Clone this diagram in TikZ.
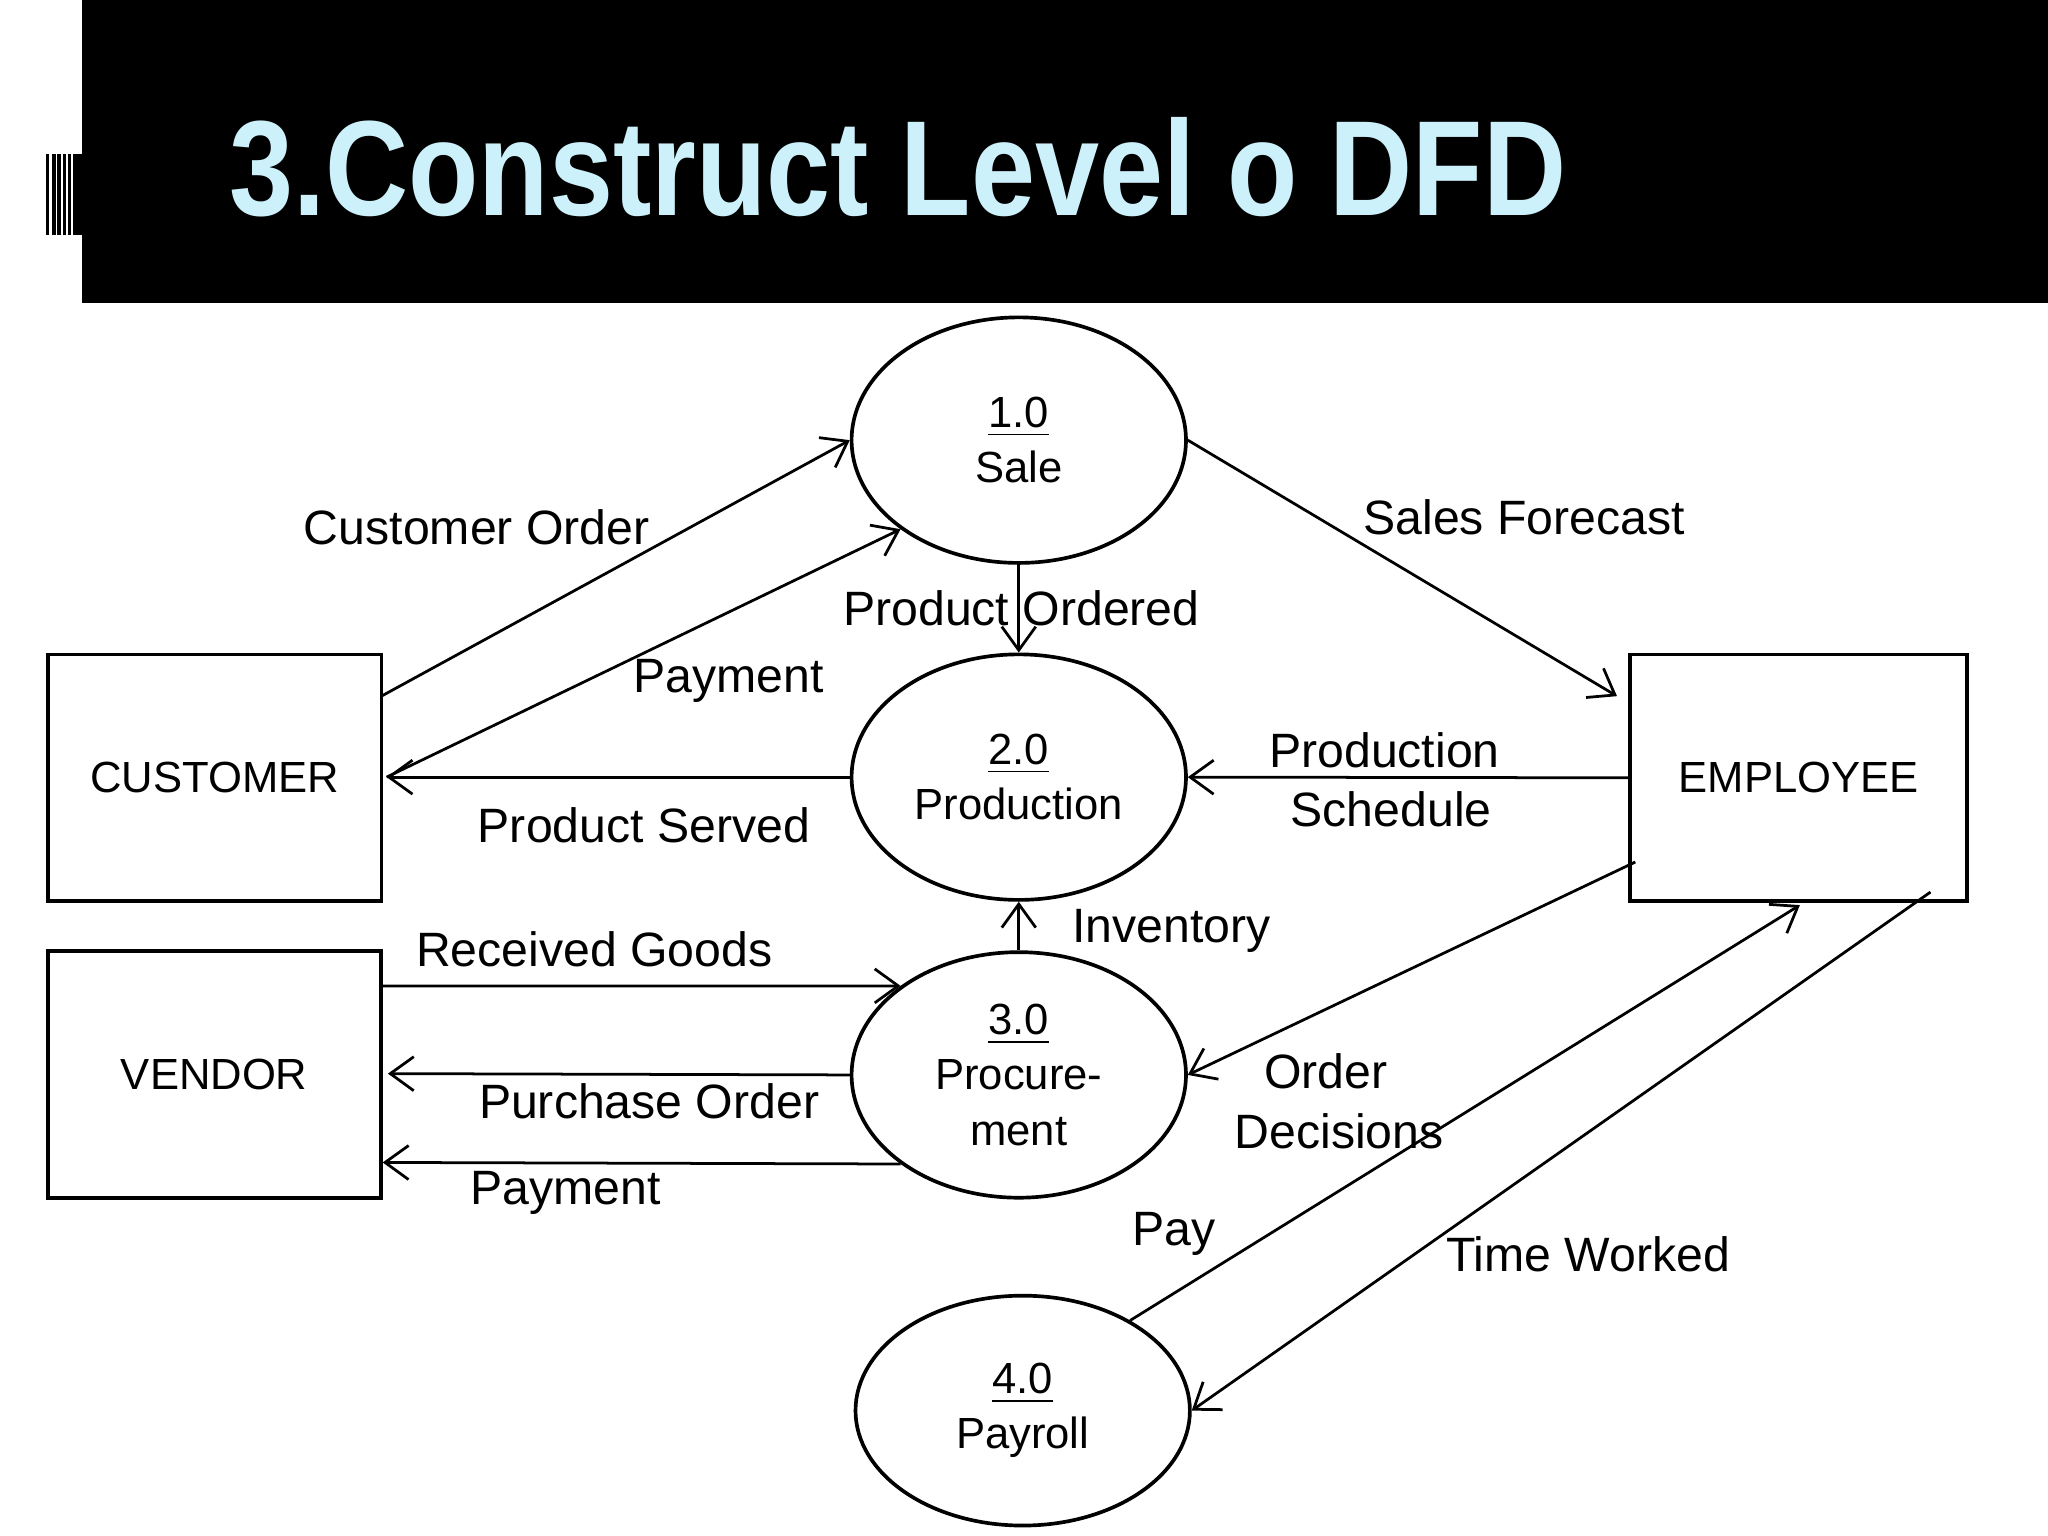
\documentclass[tikz,border=0pt]{standalone}
\usepackage{fontspec}
\setmainfont{Liberation Sans}
\usetikzlibrary{arrows.meta}
\usetikzlibrary{shapes.geometric}
\usetikzlibrary{calc}
\definecolor{titlecyan}{HTML}{CDF1FB}
\tikzset{
    proc/.style={draw, ellipse, thick, inner sep=0pt, align=center,
        minimum width=2.56cm, minimum height=1.88cm, font=\fontsize{9.5}{12}\selectfont},
    entity/.style={draw, thick, minimum width=2.55cm, minimum height=1.89cm,
        font=\fontsize{9.5}{12}\selectfont},
    flow/.style={->, semithick, >={Straight Barb[length=1.8mm,width=2.6mm]}},
    lbl/.style={font=\fontsize{10.5}{13}\selectfont, align=center}
}
\begin{document}
\begin{tikzpicture}
    \useasboundingbox (0,0) rectangle (15.68,-11.76);
    \fill[white] (0,0) rectangle (15.68,-11.76);
    % title banner
    \fill[black] (0.63,0) rectangle (15.68,-2.32);
    \foreach \x in {0.35,0.40,0.44,0.48,0.52,0.56}
        \fill[black] (\x,-1.18) rectangle (\x+0.025,-1.80);
    \fill[black] (0.58,-1.18) rectangle (0.63,-1.80);
    \node[anchor=base west, inner sep=0pt, text=titlecyan] (title) at (1.75,-1.65)
        {\scalebox{0.85}[1]{\fontsize{29.5}{32}\selectfont\bfseries 3.Construct Level o DFD}};
    % processes
    \node[proc] (sale) at (7.80,-3.37) {\underline{1.0}\\Sale};
    \node[proc] (prod) at (7.80,-5.95) {\underline{2.0}\\Production};
    \node[proc] (procu) at (7.80,-8.23) {\underline{3.0}\\Procure-\\ment};
    \node[proc, minimum height=1.76cm] (payroll) at (7.83,-10.80) {\underline{4.0}\\Payroll};
    % external entities
    \node[entity] (cust) at (1.645,-5.955) {CUSTOMER};
    \node[entity] (vend) at (1.64,-8.225) {VENDOR};
    \node[entity, minimum width=2.58cm] (emp) at (13.77,-5.955) {EMPLOYEE};
    % free ends
    \coordinate (c1) at (2.92,-5.33);
    \coordinate (c2) at (2.96,-5.95);
    \coordinate (v1) at (2.92,-7.55);
    \coordinate (v2) at (2.97,-8.22);
    \coordinate (v3) at (2.93,-8.90);
    \coordinate (e1) at (12.38,-5.33);
    \coordinate (e2) at (12.52,-6.60);
    \coordinate (e3) at (13.78,-6.93);
    \coordinate (e4) at (14.78,-6.83);
    % flows
    \draw[flow] (c1) -- (sale.west);
    \draw[flow] (c2) -- (sale.217);
    \draw[flow] (prod.west) -- (c2);
    \draw[flow] (sale.east) -- (e1);
    \draw[flow] (sale.south) -- (prod.north);
    \draw[flow] (emp.west) -- (prod.east);
    \draw[flow] (procu.north) -- (prod.south);
    \draw[flow] (v1) -- (procu.143);
    \draw[flow] (procu.west) -- (v2);
    \draw[flow] (procu.217) -- (v3);
    \draw[flow] (e2) -- (procu.east);
    \draw[flow] (payroll.40) -- (e3);
    \draw[flow] (e4) -- (payroll.east);
    % labels
    \node[lbl] at (3.65,-4.04) {Customer Order};
    \node[lbl] at (5.58,-5.21) {Payment};
    \node[lbl] at (11.67,-3.96) {Sales Forecast};
    \node[lbl] at (7.82,-4.66) {Product Ordered};
    \node[lbl] at (10.60,-5.97) {Production\\\ Schedule};
    \node[lbl] at (4.93,-6.32) {Product Served};
    \node[lbl] at (8.97,-7.13) {Inventory};
    \node[lbl] at (4.55,-7.27) {Received Goods};
    \node[lbl] at (4.97,-8.43) {Purchase Order};
    \node[lbl] at (4.33,-9.13) {Payment};
    \node[lbl] at (10.15,-8.43) {Order\\\ \ Decisions};
    \node[lbl] at (8.99,-9.45) {Pay};
    \node[lbl] at (12.16,-9.60) {Time Worked};
\end{tikzpicture}
\end{document}
